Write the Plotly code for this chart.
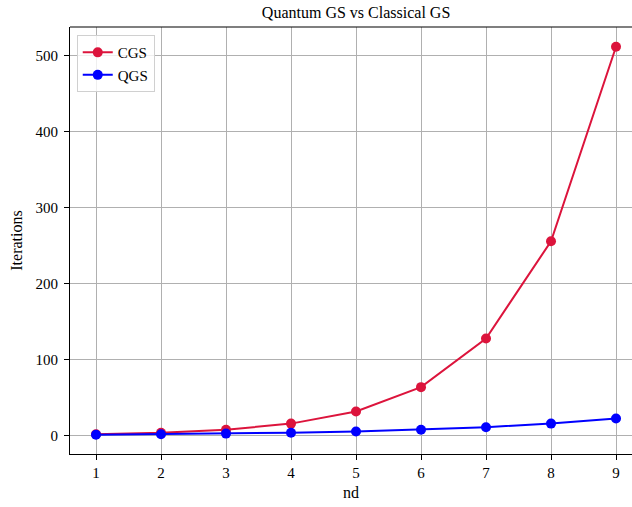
import plotly.graph_objects as go

nd = [1, 2, 3, 4, 5, 6, 7, 8, 9]
cgs = [2, 4, 8, 16, 32, 64, 128, 256, 512]
qgs = [1.41, 2.0, 2.83, 4.0, 5.66, 8.0, 11.31, 16.0, 22.63]
x_ticks = [1, 2, 3, 4, 5, 6, 7, 8, 9]
y_ticks = [0, 100, 200, 300, 400, 500]

font = "Liberation Serif, Times New Roman, serif"

fig = go.Figure()
fig.add_trace(go.Scatter(x=nd, y=cgs, mode="lines+markers", name="CGS",
                         line=dict(color="#DC143C", width=2),
                         marker=dict(color="#DC143C", size=10)))
fig.add_trace(go.Scatter(x=nd, y=qgs, mode="lines+markers", name="QGS",
                         line=dict(color="#0000FF", width=2),
                         marker=dict(color="#0000FF", size=10)))

fig.update_layout(
    width=632, height=507,
    margin=dict(l=70, r=0, t=27, b=53),
    paper_bgcolor="white", plot_bgcolor="white",
    font=dict(family=font, size=15, color="black"),
    title=dict(text="Quantum GS vs Classical GS", x=0.509, xref="paper",
               xanchor="center", y=0.976, yanchor="middle", font=dict(size=16)),
    legend=dict(x=0.012, y=0.981, xanchor="left", yanchor="top",
                bgcolor="rgba(255,255,255,0.8)", bordercolor="#d0d0d0",
                borderwidth=1, font=dict(size=15)),
    showlegend=True,
)
fig.update_xaxes(range=[0.6, 9.246], tickvals=x_ticks, ticks="outside", ticklen=5,
                 tickcolor="black", showline=True, linecolor="black", linewidth=1.2,
                 showgrid=True, gridcolor="#b0b0b0", gridwidth=1, zeroline=False,
                 title=dict(text="nd", standoff=6, font=dict(size=16)))
fig.update_yaxes(range=[-24, 538], tickvals=y_ticks, ticks="outside", ticklen=5,
                 tickcolor="black", showline=True, linecolor="black", linewidth=1.2,
                 showgrid=True, gridcolor="#b0b0b0", gridwidth=1, zeroline=False,
                 ticklabelstandoff=3,
                 title=dict(text="Iterations", standoff=8, font=dict(size=16)))
fig.add_shape(type="line", xref="paper", yref="paper", x0=0, x1=1, y0=1, y1=1,
              line=dict(color="black", width=1.2))

fig.write_html("out.html", config={"displayModeBar": False},
               post_script="document.body.style.margin='0';document.body.style.overflow='hidden';")
